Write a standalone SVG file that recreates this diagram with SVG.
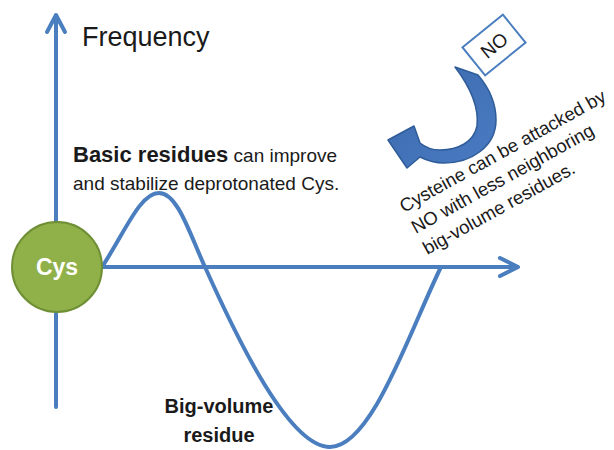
<svg xmlns="http://www.w3.org/2000/svg" width="614" height="450" viewBox="0 0 614 450">
<style>
.ax{fill:none;stroke:#4a7ebf;stroke-width:4;stroke-linecap:round;stroke-linejoin:round}
.t{font-family:"Liberation Sans",Arial,sans-serif;fill:#1a1a1a}
.b{font-weight:bold}
</style>
<defs>
<linearGradient id="ag" x1="0" y1="0" x2="1" y2="1">
<stop offset="0" stop-color="#3b69ad"/>
<stop offset="1" stop-color="#4a7bc2"/>
</linearGradient>
</defs>
<rect width="614" height="450" fill="#ffffff"/>
<g id="connectors">
<path class="ax" d="M56,407 V16"/>
<path class="ax" d="M47,32 L56,15 L65,32"/>
<path class="ax" d="M102,267 H517"/>
<path class="ax" d="M500,258 L518,267 L500,276"/>
<path id="wave" class="ax" d="M102,267 C125,232 140,193 159,193 C178,193 190,235 205,267 C240,345 290,447 330,447 C372,447 410,330 441,267"/>
</g>
<g id="frequency-label">
<text class="t" x="82" y="46" font-size="27">Frequency</text>
</g>
<g id="cys">
<circle cx="57" cy="267" r="45" fill="#90b04a" stroke="#6f8f35" stroke-width="2"/>
<text x="57" y="275" font-size="23" font-weight="bold" fill="#ffffff" text-anchor="middle" font-family="Liberation Sans,Arial,sans-serif">Cys</text>
</g>
<g id="basic-residues">
<text class="t" x="73" y="162"><tspan class="b" font-size="22">Basic residues</tspan><tspan font-size="19"> can improve</tspan></text>
<text class="t" x="73" y="190" font-size="19">and stabilize deprotonated Cys.</text>
</g>
<g id="big-volume">
<text class="t b" x="219" y="413" font-size="20" text-anchor="middle">Big-volume</text>
<text class="t b" x="219" y="442" font-size="20" text-anchor="middle">residue</text>
</g>
<g id="curved-arrow">
<path d="M455,67 C471,88 479,108 477,126 C474,142 458,150 440,150 C432,150 425,147 420,143 L414,126 L388,140 L407,168 L420,157 C428,161 436,163 444,163 C472,163 496,146 496,120 C496,104 490,89 478,75 Z" fill="url(#ag)" stroke="#2f5c99" stroke-width="1.5" stroke-linejoin="round"/>
</g>
<g id="no-box" transform="translate(494,45) rotate(-39)">
<rect x="-26" y="-18" width="52" height="36" fill="#ffffff" stroke="#4a7ebf" stroke-width="2"/>
<text class="t" x="0" y="7" font-size="19" text-anchor="middle">NO</text>
</g>
<g id="attack-note" transform="translate(404,213) rotate(-29)">
<text class="t" x="0" y="0" font-size="18.5">Cysteine can be attacked by</text>
<text class="t" x="0" y="24" font-size="18.5">NO with less neighboring</text>
<text class="t" x="0" y="48" font-size="18.5">big-volume residues.</text>
</g>
</svg>
